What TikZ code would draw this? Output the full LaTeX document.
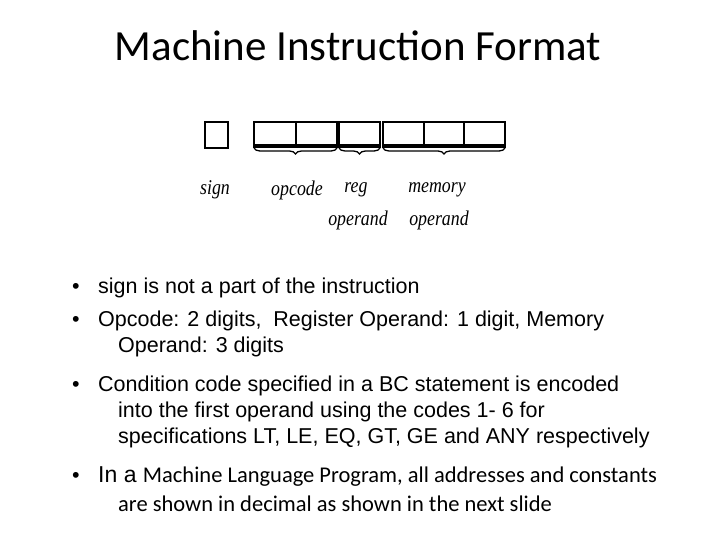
\documentclass[tikz,border=0pt]{standalone}
\usepackage{fontspec}
\setmainfont{Liberation Sans}
\newfontfamily\calfont{Carlito}
\newfontfamily\labfont{Liberation Serif}
\usetikzlibrary{decorations.pathreplacing}
\begin{document}
\begin{tikzpicture}[x=1pt,y=-1pt,
 cell/.style={draw,line width=1.2pt,minimum width=0pt},
 br/.style={decorate,decoration={brace,mirror,amplitude=6pt},line width=1.3pt},
 lbl/.style={font=\labfont\itshape\fontsize{21}{24}\selectfont,inner sep=0pt,xscale=0.85},
 bul/.style={anchor=base west,inner sep=0pt,font=\fontsize{21.5}{24}\selectfont}]
\useasboundingbox (0,0) rectangle (720,540);
\node[font=\calfont\fontsize{43}{48}\selectfont] (title) at (358,46) {Machine Instruction Format};
\draw[cell] (205,122) rectangle (228,148);
\foreach \a/\b in {254/296,296/337,339/380,383/424,424/464,464/505}{\draw[cell] (\a,122) rectangle (\b,147);}
\foreach \a/\b in {254/337,339/380,383/505}{\draw[line width=2.5pt] (\a,145.5) -- (\b,145.5); \draw[br] (\a,148) -- (\b,148);}
\node[lbl] (sign) at (215,190) {sign};
\node[lbl] (opc) at (297,190) {opcode};
\node[lbl] (reg) at (356,190) {reg};
\node[lbl] (rop) at (358,220) {operand};
\node[lbl] (mem) at (437,190) {memory};
\node[lbl] (mop) at (439,220) {operand};
\foreach \y in {293,326,391,482}{\node[bul] at (72,\y) {•};}
\node[bul] (b1) at (98,293) {sign is not a part of the instruction};
\node[bul] (b2) at (98,326) {Opcode: 2 digits,\ \ Register Operand: 1 digit, Memory};
\node[bul] (b2b) at (118,352) {Operand: 3 digits};
\node[bul] (b3) at (98,391) {Condition code specified in a BC statement is encoded};
\node[bul] (b3b) at (118,417) {into the first operand using the codes 1- 6 for};
\node[bul] (b3c) at (118,443) {specifications LT, LE, EQ, GT, GE and ANY respectively};
\node[bul] (b4) at (98,482) {\fontsize{23}{26}\selectfont In a {\calfont\fontsize{22.5}{26}\selectfont Machine Language Program, all addresses and constants}};
\node[bul,font=\calfont\fontsize{22.5}{26}\selectfont] (b4b) at (118,511) {are shown in decimal as shown in the next slide};
\end{tikzpicture}
\end{document}
